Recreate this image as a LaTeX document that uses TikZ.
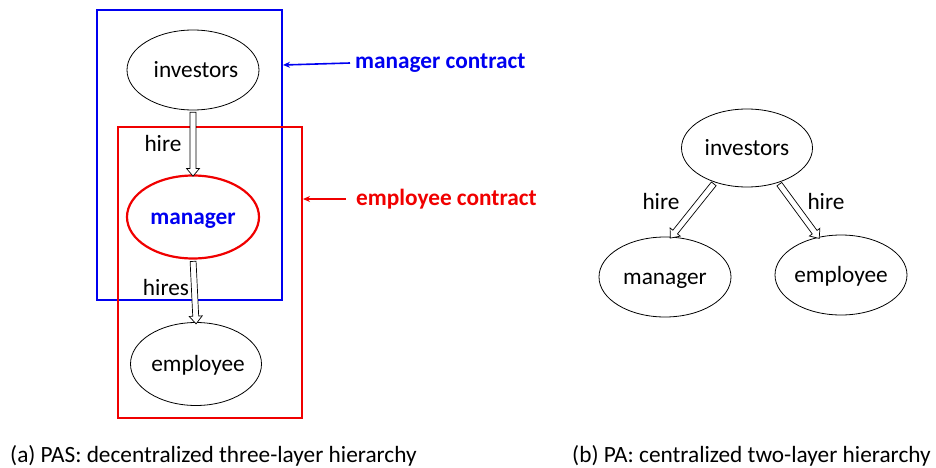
\documentclass[tikz,border=0pt]{standalone}
\usepackage{fontspec}
\setmainfont{Carlito}
\usetikzlibrary{shapes.geometric,shapes.arrows,arrows.meta,calc}
\definecolor{myblue}{RGB}{0,0,240}
\definecolor{myred}{RGB}{240,0,0}
\tikzset{
  ell/.style={ellipse, draw=black, line width=0.8pt, minimum width=132pt, minimum height=80pt, inner sep=-10pt, text height=15pt, text depth=0pt, font=\fontsize{23.3}{28}\selectfont},
  blockarrow/.style={single arrow, draw=black, fill=white, line width=0.7pt, inner xsep=0pt, inner ysep=2.6pt, minimum width=13pt, single arrow tip angle=80, single arrow head extend=3.5pt, anchor=center},
  lbl/.style={font=\fontsize{23.3}{28}\selectfont, inner sep=0pt},
  box/.style={line width=2.2pt},
  captxt/.style={font=\fontsize{23.3}{28}\selectfont, inner sep=0pt, anchor=west},
}
\newcommand{\hirelink}[2]{%
  \path let \p1=(#1), \p2=(#2), \n1={atan2(\y2-\y1,\x2-\x1)}, \n2={veclen(\x2-\x1,\y2-\y1)} in
    node[blockarrow, rotate=\n1, minimum height=\n2] at ($(\p1)!0.5!(\p2)$) {};}
\begin{document}
\begin{tikzpicture}[x=1pt,y=-1pt]
\useasboundingbox (0,0) rectangle (936,468);
% left part
\node[ell] (inv1) at (193,70) {\hspace{6pt}investors};
\node[ell, draw=myred, line width=2.2pt, minimum height=83pt, text=myblue, font=\fontsize{23.3}{28}\selectfont\bfseries] (man1) at (193,217) {manager};
\node[ell, minimum width=131pt, minimum height=83pt] (emp1) at (196,364) {\hspace{4pt}employee};
\draw[box, draw=myblue] (97,10) rectangle (282,300);
\draw[box, draw=myred] (118,127) rectangle (302,418);
\coordinate (bluebox) at (283,65);
\coordinate (redbox) at (303,199);
\hirelink{inv1.south}{man1.north}
\hirelink{man1.south}{emp1.north}
\node[lbl] (hire1) at (163,143) {hire};
\node[lbl] (hires1) at (166,287) {hires};
\node[lbl, anchor=west, text=myblue, font=\fontsize{23.3}{28}\selectfont\bfseries] (mc) at (355,63) {manager contract};
\node[lbl, anchor=west, text=myred, font=\fontsize{23.3}{28}\selectfont\bfseries] (ec) at (356,199) {employee contract};
\draw[myblue, line width=1.6pt, -{Stealth[length=7pt,width=6pt]}] ([xshift=-5pt]mc.west) -- (bluebox);
\draw[myred, line width=1.6pt, -{Stealth[length=7pt,width=6pt]}] ([xshift=-10pt]ec.west) -- (redbox);
% right part
\node[ell, minimum width=131pt, minimum height=78pt] (inv2) at (747,148) {investors};
\node[ell] (man2) at (665,277) {manager};
\node[ell] (emp2) at (841,275) {employee};
\hirelink{inv2.227}{man2.81}
\hirelink{inv2.312}{emp2.121}
\node[lbl] (hire2) at (661,201) {hire};
\node[lbl] (hire3) at (826,201) {hire};
% captions
\node[captxt] (capa) at (10,456) {(a) PAS: decentralized three-layer hierarchy};
\node[captxt] (capb) at (572,456) {(b) PA: centralized two-layer hierarchy};
\end{tikzpicture}
\end{document}
